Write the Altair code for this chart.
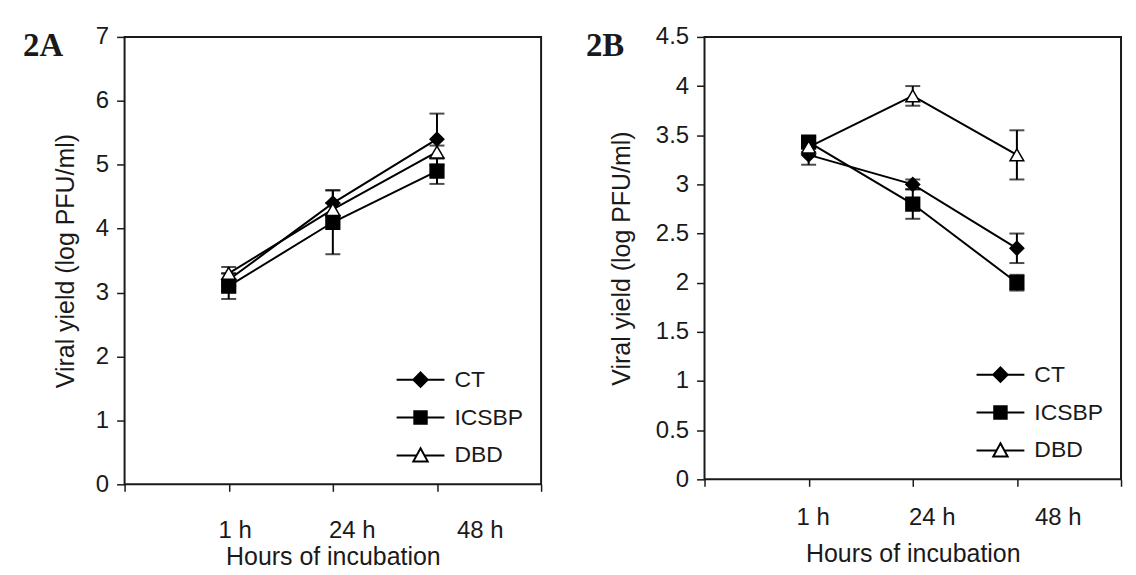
import altair as alt
import pandas as pd

# ---------------- data ----------------
time_labels = ["1 h", "24 h", "48 h"]
time_index = [1, 2, 3]
series_names = ["CT", "ICSBP", "DBD"]

# Panel 2A
a_ct = [3.2, 4.4, 5.4]
a_ct_err = [0.1, 0.2, 0.4]
a_icsbp = [3.1, 4.1, 4.9]
a_icsbp_err = [0.2, 0.5, 0.2]
a_dbd = [3.3, 4.3, 5.2]
a_dbd_err = [0.1, 0.1, 0.1]

# Panel 2B
b_ct = [3.3, 3.0, 2.35]
b_ct_err = [0.1, 0.05, 0.15]
b_icsbp = [3.43, 2.8, 2.0]
b_icsbp_err = [0.05, 0.15, 0.08]
b_dbd = [3.38, 3.9, 3.3]
b_dbd_err = [0.05, 0.1, 0.25]

a_ticks = [0, 1, 2, 3, 4, 5, 6, 7]
b_ticks = [0, 0.5, 1, 1.5, 2, 2.5, 3, 3.5, 4, 4.5]

FONT = "Liberation Sans"
INK = "#1a1a1a"
marker_shapes = ["diamond", "square", "triangle-up"]
marker_fills = ["black", "black", "white"]
marker_strokes = ["black", "black", "black"]
legend_paths = [
    "M-1,0H-0.3M0.3,0H1M0,-0.3L0.3,0L0,0.3L-0.3,0Z",
    "M-1,0H-0.26M0.26,0H1M-0.26,-0.26H0.26V0.26H-0.26Z",
    "M-1,0H-0.16M0.16,0H1M0,-0.3L0.3,0.25H-0.3Z",
]


def make_df(values, errs):
    rows = []
    for name, vals, es in zip(series_names, values, errs):
        for t, v, e in zip(time_index, vals, es):
            rows.append({"series": name, "t": t, "y": v, "lo": v - e, "hi": v + e})
    return pd.DataFrame(rows)


def panel(df, ymax, yticks, tag, tag_dx, offsets, height, lab_pad, title_pad, ytitle_pad):
    label_expr = "".join(
        f"datum.value == {i} ? '{l}' : " for i, l in zip(time_index, time_labels)
    ) + "''"
    label_offset = {
        "condition": [
            {"test": f"datum.value == {i}", "value": o}
            for i, o in zip(time_index, offsets)
        ],
        "value": 0,
    }
    xenc = alt.X(
        "t:Q",
        scale=alt.Scale(domain=[0, 4], nice=False, zero=False),
        axis=alt.Axis(
            values=[0, 1, 2, 3, 4],
            labelExpr=label_expr,
            labelOffset=label_offset,
            labelFlush=False,
            labelOverlap=False,
            labelPadding=lab_pad,
            tickSize=7,
            domain=False,
            grid=False,
            title="Hours of incubation",
            titlePadding=title_pad,
        ),
    )
    yscale = alt.Scale(domain=[0, ymax], nice=False, zero=True)
    yaxis = alt.Axis(
        values=yticks,
        format="~g",
        tickSize=8,
        labelPadding=8,
        domain=False,
        grid=False,
        title="Viral yield (log PFU/ml)",
        titlePadding=ytitle_pad,
    )

    def yenc(field):
        return alt.Y(f"{field}:Q", scale=yscale, axis=yaxis)

    legend = alt.Legend(
        title=None,
        orient="bottom-right",
        offset=17,
        padding=0,
        symbolSize=2304,
        symbolStrokeColor="black",
        symbolStrokeWidth=2,
        symbolOpacity=1,
        labelFont=FONT,
        labelFontSize=23,
        labelColor=INK,
        labelOffset=9,
        rowPadding=1,
    )

    base = alt.Chart(df)
    lines = base.mark_line(color="black", strokeWidth=2).encode(
        x=xenc, y=yenc("y"), detail="series:N"
    )
    bars = base.mark_rule(color="black", strokeWidth=2).encode(
        x=xenc, y=yenc("lo"), y2="hi:Q"
    )
    caps = (
        base.transform_fold(["lo", "hi"], as_=["k", "v"])
        .mark_tick(orient="horizontal", size=15, thickness=2, color="black")
        .encode(x=xenc, y=yenc("v"))
    )
    points = base.mark_point(
        stroke="black", strokeWidth=1.5, opacity=1, size=190
    ).encode(
        x=xenc,
        y=yenc("y"),
        shape=alt.Shape(
            "series:N",
            scale=alt.Scale(domain=series_names, range=marker_shapes),
            legend=None,
        ),
        fill=alt.Fill(
            "series:N",
            scale=alt.Scale(domain=series_names, range=marker_fills),
            legend=None,
        ),
    )
    legend_layer = base.mark_point(
        opacity=0, filled=False, strokeWidth=2
    ).encode(
        x=xenc,
        y=yenc("y"),
        shape=alt.Shape(
            "series:N",
            scale=alt.Scale(domain=series_names, range=legend_paths),
            legend=legend,
        ),
        fill=alt.Fill(
            "series:N",
            scale=alt.Scale(domain=series_names, range=marker_fills),
            legend=legend,
        ),
        stroke=alt.Stroke(
            "series:N",
            scale=alt.Scale(domain=series_names, range=marker_strokes),
            legend=legend,
        ),
    )
    tag_layer = (
        alt.Chart(pd.DataFrame({"tag": [tag]}))
        .mark_text(
            font="Liberation Serif",
            fontWeight="bold",
            fontSize=33,
            align="left",
            baseline="alphabetic",
            color=INK,
        )
        .encode(text="tag:N", x=alt.value(tag_dx), y=alt.value(19))
    )
    return (
        alt.layer(lines, bars, caps, points, legend_layer, tag_layer)
        .resolve_scale(shape="independent", fill="independent", stroke="independent")
        .properties(width=418, height=height)
    )


df_a = make_df([a_ct, a_icsbp, a_dbd], [a_ct_err, a_icsbp_err, a_dbd_err])
df_b = make_df([b_ct, b_icsbp, b_dbd], [b_ct_err, b_icsbp_err, b_dbd_err])

pa = panel(df_a, 7, a_ticks, "2A", -102, [6, 19, 43], 449, 27, 2, 17)
pb = panel(df_b, 4.5, b_ticks, "2B", -119, [4, 19, 41], 444, 19, 12, 21)

chart = (
    alt.hconcat(pa, pb, spacing=42)
    .properties(padding={"left": 14, "top": 15, "right": 5, "bottom": 5})
    .configure_view(stroke=INK, strokeWidth=2)
    .configure_axis(
        labelFont=FONT,
        titleFont=FONT,
        labelFontSize=24,
        titleFontSize=25,
        titleFontWeight="normal",
        labelColor=INK,
        titleColor=INK,
        tickColor=INK,
        tickWidth=1.5,
    )
)

chart.save("out.html", embed_options={"renderer": "svg", "actions": False})
